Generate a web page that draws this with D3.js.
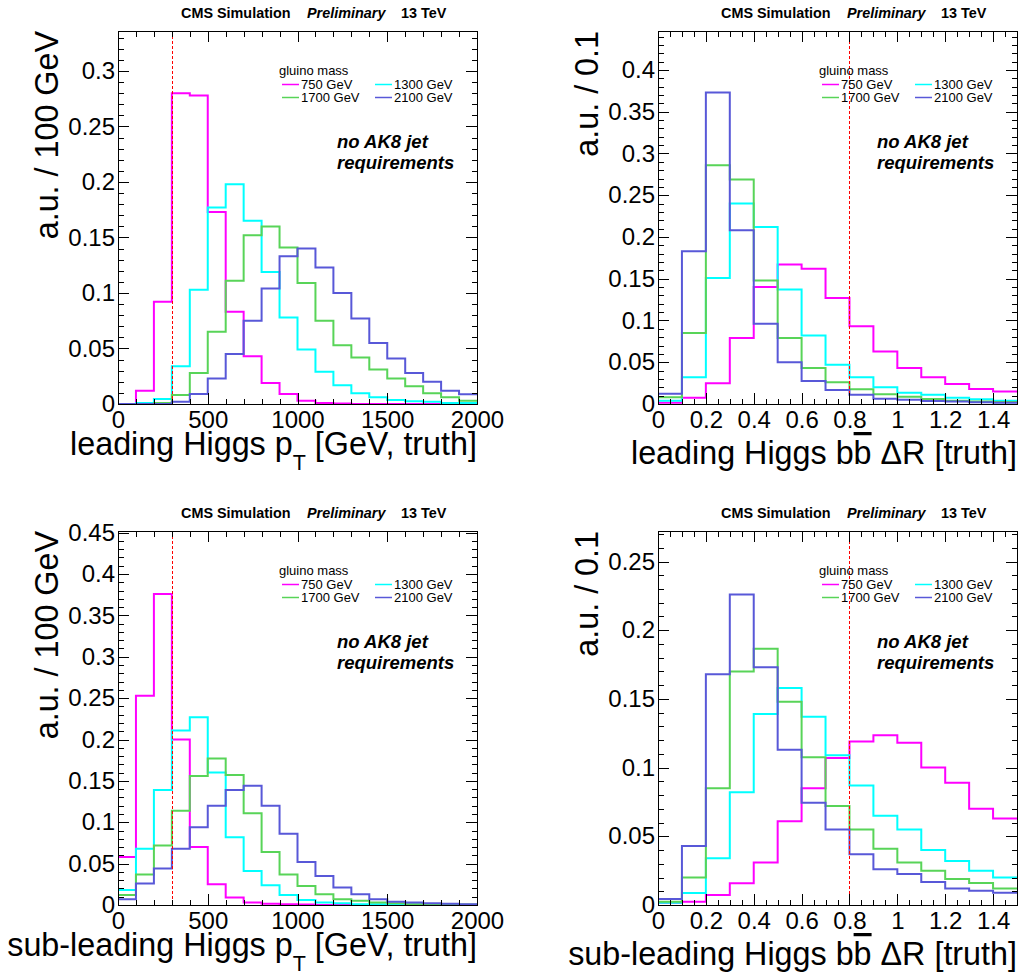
<!DOCTYPE html>
<html><head><meta charset="utf-8">
<script src="https://cdn.jsdelivr.net/npm/d3@7"></script>
<style>
body{margin:0;background:#fff}
svg text{font-family:"Liberation Sans",Arial,Helvetica,sans-serif;fill:#000}
</style>
</head><body>
<svg id="c" width="1020" height="977"></svg>
<script>
// ---------------- data ----------------
const masses = ["750 GeV", "1300 GeV", "1700 GeV", "2100 GeV"];
const colors = ["#ff00ff", "#00ffff", "#58d458", "#5858d8"];

const ptEdges = [0,100,200,300,400,500,600,700,800,900,1000,1100,1200,1300,1400,1500,1600,1700,1800,1900,2000];
const drEdges = [0,0.1,0.2,0.3,0.4,0.5,0.6,0.7,0.8,0.9,1.0,1.1,1.2,1.3,1.4,1.5];

const ptTickLabels = [0, 500, 1000, 1500, 2000];
const drTickLabels = [0, 0.2, 0.4, 0.6, 0.8, 1, 1.2, 1.4];
const yTicksLeadPt = [0, 0.05, 0.1, 0.15, 0.2, 0.25, 0.3];
const yTicksLeadDR = [0, 0.05, 0.1, 0.15, 0.2, 0.25, 0.3, 0.35, 0.4];
const yTicksSubPt  = [0, 0.05, 0.1, 0.15, 0.2, 0.25, 0.3, 0.35, 0.4, 0.45];
const yTicksSubDR  = [0, 0.05, 0.1, 0.15, 0.2, 0.25];

// leading Higgs pT (per 100 GeV)
const leadPt750  = [0.000,0.012,0.092,0.280,0.278,0.173,0.083,0.043,0.019,0.009,0.003,0.001,0.0005,0,0,0,0,0,0,0];
const leadPt1300 = [0.000,0.001,0.0045,0.034,0.103,0.177,0.198,0.165,0.119,0.078,0.049,0.029,0.017,0.0096,0.006,0.0036,0.0025,0.002,0.001,0.001];
const leadPt1700 = [0.000,0.000,0.001,0.008,0.028,0.065,0.111,0.152,0.160,0.141,0.109,0.075,0.053,0.042,0.031,0.023,0.016,0.0096,0.006,0.003];
const leadPt2100 = [0.000,0.000,0.000,0.002,0.009,0.023,0.045,0.075,0.104,0.133,0.140,0.123,0.100,0.077,0.055,0.041,0.028,0.020,0.012,0.0087];

// leading Higgs bb dR (per 0.1)
const leadDR750  = [0.0016,0.0076,0.025,0.079,0.140,0.167,0.162,0.127,0.093,0.063,0.043,0.032,0.024,0.018,0.015];
const leadDR1300 = [0.004,0.032,0.151,0.240,0.212,0.137,0.082,0.047,0.032,0.020,0.0136,0.011,0.0076,0.0056,0.004];
const leadDR1700 = [0.008,0.085,0.286,0.269,0.148,0.079,0.043,0.026,0.0176,0.0116,0.0088,0.006,0.004,0.003,0.0025];
const leadDR2100 = [0.0124,0.183,0.373,0.208,0.096,0.050,0.0275,0.0168,0.011,0.0064,0.005,0.0036,0.003,0.002,0.0016];

// sub-leading Higgs pT (per 100 GeV)
const subPt750  = [0.058,0.253,0.376,0.200,0.070,0.025,0.009,0.003,0.0016,0.001,0.0005,0,0,0,0,0,0,0,0,0];
const subPt1300 = [0.018,0.068,0.139,0.211,0.227,0.160,0.082,0.041,0.024,0.012,0.006,0.003,0.002,0.001,0.001,0.0005,0.0005,0,0,0];
const subPt1700 = [0.012,0.037,0.072,0.114,0.156,0.177,0.157,0.111,0.064,0.037,0.023,0.013,0.007,0.005,0.003,0.002,0.001,0.001,0.0005,0.0005];
const subPt2100 = [0.007,0.026,0.044,0.068,0.094,0.120,0.139,0.144,0.120,0.086,0.052,0.035,0.021,0.013,0.007,0.004,0.003,0.002,0.0015,0.001];

// sub-leading Higgs bb dR (per 0.1)
const subDR750  = [0.0017,0.0024,0.0073,0.0158,0.031,0.061,0.085,0.107,0.119,0.1235,0.118,0.100,0.089,0.070,0.063];
const subDR1300 = [0.0017,0.0087,0.034,0.082,0.139,0.158,0.137,0.109,0.087,0.065,0.055,0.040,0.032,0.025,0.020];
const subDR1700 = [0.0024,0.020,0.085,0.170,0.1865,0.148,0.1075,0.072,0.055,0.041,0.031,0.025,0.019,0.016,0.012];
const subDR2100 = [0.0044,0.043,0.168,0.226,0.173,0.113,0.0745,0.055,0.037,0.026,0.0226,0.0167,0.012,0.0104,0.009];

const ptCut = 300, drCut = 0.8;

// ---------------- drawing ----------------
const svg = d3.select("#c");

const panels = [
  {x0:118, y0:31,  w:359, h:373, kind:"pt", prefix:"leading",     yMax:0.336,  yTicks:yTicksLeadPt, series:[leadPt750,leadPt1300,leadPt1700,leadPt2100], titleDy:0},
  {x0:658, y0:31,  w:359, h:373, kind:"dr", prefix:"leading",     yMax:0.4467, yTicks:yTicksLeadDR, series:[leadDR750,leadDR1300,leadDR1700,leadDR2100], titleDy:9},
  {x0:118, y0:531, w:359, h:374, kind:"pt", prefix:"sub-leading", yMax:0.4520, yTicks:yTicksSubPt,  series:[subPt750,subPt1300,subPt1700,subPt2100], titleDy:0},
  {x0:658, y0:531, w:359, h:374, kind:"dr", prefix:"sub-leading", yMax:0.2722, yTicks:yTicksSubDR,  series:[subDR750,subDR1300,subDR1700,subDR2100], titleDy:9}
];

panels.forEach(p => drawPanel(p));

function styleAxis(sel, fs){
  sel.select(".domain").remove();
  sel.selectAll(".tick line").attr("stroke","#000").attr("stroke-width",1).attr("shape-rendering","crispEdges");
  sel.attr("font-size", fs).attr("font-family", null);
  sel.selectAll(".tick text").attr("fill","#000");
}

function drawPanel(p){
  const isPt = p.kind === "pt";
  const edges = isPt ? ptEdges : drEdges;
  const xMaj = isPt ? ptTickLabels : drTickLabels;
  const xMax = edges[edges.length-1];
  const x = d3.scaleLinear().domain([0, xMax]).range([0, p.w]);
  const y = d3.scaleLinear().domain([0, p.yMax]).range([p.h, 0]);
  const g = svg.append("g").attr("transform", `translate(${p.x0},${p.y0})`);

  const xMinor = isPt ? d3.range(0, xMax + 1, 100) : d3.range(0, 31).map(i => i * 0.05);
  const yMinor = d3.range(0, Math.floor(p.yMax * 100) + 1).map(i => i / 100);
  const TL = 11, TS = 5.5;

  // histograms
  const line = d3.line().curve(d3.curveStepAfter).x(d => x(d[0])).y(d => y(d[1]));
  p.series.forEach((vals, k) => {
    const pts = vals.map((v, i) => [edges[i], v]);
    pts.push([edges[vals.length], vals[vals.length-1]]);
    g.append("path").attr("d", line(pts)).attr("fill","none")
      .attr("stroke", colors[k]).attr("stroke-width", 2);
  });

  // cut line
  const cut = isPt ? ptCut : drCut;
  const cx = Math.round(x(cut)) + 0.5;
  g.append("line").attr("x1", cx).attr("x2", cx).attr("y1", 0).attr("y2", p.h)
    .attr("stroke","#ff0000").attr("stroke-width",1).attr("stroke-dasharray","3,2");

  // axes (ticks inward on all sides)
  const fmt = d => String(d);
  g.append("g").attr("transform",`translate(0,${p.h})`)
    .call(d3.axisBottom(x).tickValues(xMinor).tickSize(-TS).tickFormat("")).call(s=>styleAxis(s,24));
  g.append("g").attr("transform",`translate(0,${p.h})`)
    .call(d3.axisBottom(x).tickValues(xMaj).tickSize(-TL).tickPadding(7).tickFormat(fmt)).call(s=>styleAxis(s,24));
  g.append("g")
    .call(d3.axisTop(x).tickValues(xMinor).tickSize(-TS).tickFormat("")).call(s=>styleAxis(s,24));
  g.append("g")
    .call(d3.axisTop(x).tickValues(xMaj).tickSize(-TL).tickFormat("")).call(s=>styleAxis(s,24));
  g.append("g")
    .call(d3.axisLeft(y).tickValues(yMinor).tickSize(-TS).tickFormat("")).call(s=>styleAxis(s,24));
  g.append("g")
    .call(d3.axisLeft(y).tickValues(p.yTicks).tickSize(-TL).tickPadding(3).tickFormat(fmt)).call(s=>styleAxis(s,24));
  g.append("g").attr("transform",`translate(${p.w},0)`)
    .call(d3.axisRight(y).tickValues(yMinor).tickSize(-TS).tickFormat("")).call(s=>styleAxis(s,24));
  g.append("g").attr("transform",`translate(${p.w},0)`)
    .call(d3.axisRight(y).tickValues(p.yTicks).tickSize(-TL).tickFormat("")).call(s=>styleAxis(s,24));

  // frame
  g.append("rect").attr("x",0.5).attr("y",0.5).attr("width",p.w).attr("height",p.h)
    .attr("fill","none").attr("stroke","#000").attr("stroke-width",1).attr("shape-rendering","crispEdges");

  // header
  const hy = -13.5;
  g.append("text").attr("x",63).attr("y",hy).attr("font-size",14.4).attr("font-weight","bold").text("CMS Simulation");
  g.append("text").attr("x",189).attr("y",hy).attr("font-size",14.4).attr("font-weight","bold").attr("font-style","italic").text("Preliminary");
  g.append("text").attr("x",283).attr("y",hy).attr("font-size",14.4).attr("font-weight","bold").text("13 TeV");

  // legend
  const lg = g.append("g").attr("font-size",13);
  lg.append("text").attr("x",161).attr("y",44).text("gluino mass");
  const cols = [164, 257], rows = [53.5, 66.5];
  masses.forEach((m, k) => {
    const lx = cols[k % 2], ry = rows[Math.floor(k / 2)];
    lg.append("line").attr("x1",lx).attr("x2",lx+17).attr("y1",ry).attr("y2",ry)
      .attr("stroke",colors[k]).attr("stroke-width",1.5);
    lg.append("text").attr("x",lx+19).attr("y",ry+4.5).text(m);
  });

  // annotation
  const ag = g.append("g").attr("font-size",18.5).attr("font-weight","bold").attr("font-style","italic");
  ag.append("text").attr("x",219).attr("y",117).text("no AK8 jet");
  ag.append("text").attr("x",219).attr("y",138).text("requirements");

  // y title
  const yt = isPt ? "a.u. / 100 GeV" : "a.u. / 0.1";
  g.append("text").attr("transform",`translate(-60,0) rotate(-90)`).attr("text-anchor","end")
    .attr("font-size",32.3).text(yt);

  // x title
  const xt = g.append("text").attr("x",p.w).attr("y",p.h + 51 + p.titleDy)
    .attr("text-anchor","end").attr("font-size",32.3);
  if (isPt){
    xt.append("tspan").text(p.prefix + " Higgs p");
    xt.append("tspan").attr("font-size",21.5).attr("dy",15).text("T");
    xt.append("tspan").attr("dy",-15).text(" [GeV, truth]");
  } else {
    xt.append("tspan").text(p.prefix + " Higgs b");
    xt.append("tspan").style("text-decoration","overline").text("b");
    xt.append("tspan").text(" \u0394R [truth]");
  }
}
</script>
</body></html>
